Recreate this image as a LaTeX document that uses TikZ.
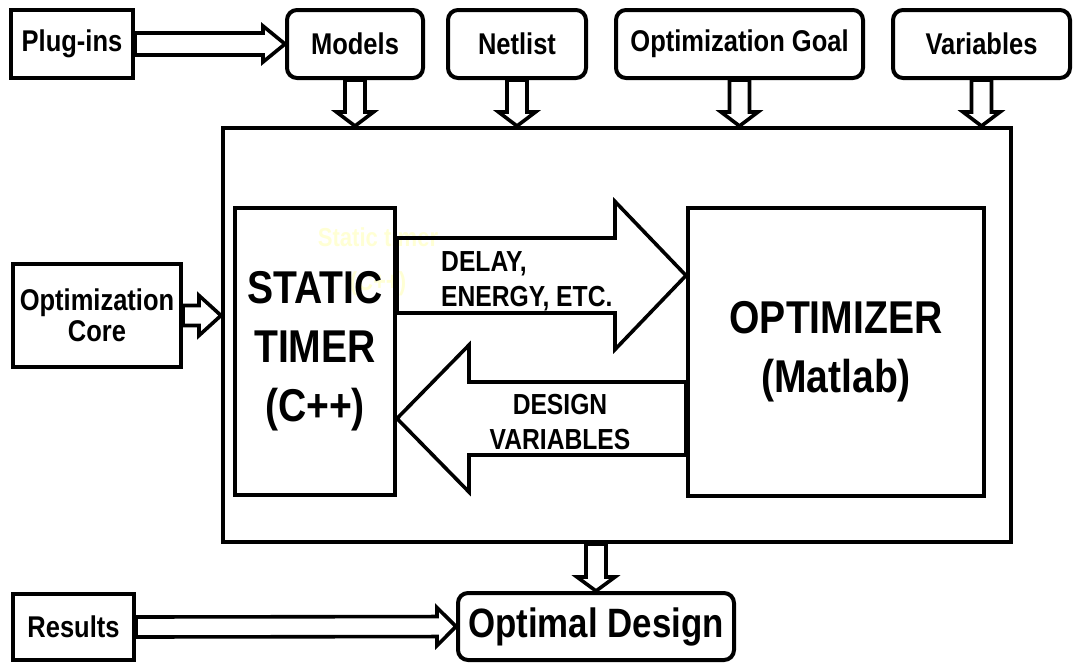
\documentclass[tikz,border=0pt]{standalone}
\usepackage{fontspec}
\setmainfont[FakeStretch=0.85]{Liberation Sans}
\usetikzlibrary{calc}
\definecolor{faintyellow}{RGB}{255,255,212}
% hollow block arrow: from, to, shaft half width, head half width, head length
\newcommand\hollowarr[5]{%
  \draw[arr] let \p1=(#1), \p2=(#2), \n1={veclen(\x2-\x1,\y2-\y1)}, \n2={atan2(\y2-\y1,\x2-\x1)} in
    {[shift={(\p1)},rotate=\n2] (0,#3) -- (\n1-#5,#3) -- (\n1-#5,#4) -- (\n1,0) -- (\n1-#5,-#4) -- (\n1-#5,-#3) -- (0,-#3) -- cycle};}
\begin{document}
\begin{tikzpicture}[x=1pt,y=-1pt,line join=miter,
  box/.style={draw,line width=4pt,inner sep=0pt,align=center,font=\bfseries\fontsize{30}{31}\selectfont},
  rbox/.style={box,rounded corners=10pt},
  big/.style={font=\bfseries\fontsize{46}{59}\selectfont},
  lbl/.style={inner sep=0pt,font=\bfseries\fontsize{29}{35}\selectfont},
  arr/.style={line width=3.6pt}]
  \useasboundingbox (0,0) rectangle (1074,662);
  \node[text=faintyellow,inner sep=0pt,align=center,font=\bfseries\fontsize{26}{44}\selectfont] (ghost) at (378,262) {Static timer\\(C++)};
  % inputs
  \node[box,minimum width=122pt,minimum height=68pt] (plug) at (72,44) {Plug-ins};
  \node[rbox,minimum width=136pt,minimum height=68pt] (models) at (355,44) {Models};
  \node[rbox,minimum width=138pt,minimum height=68pt] (netlist) at (517,44) {Netlist};
  \node[rbox,minimum width=247pt,minimum height=68pt] (goal) at (739.5,44) {Optimization Goal};
  \node[rbox,minimum width=177pt,minimum height=68pt] (vars) at (981.5,44) {Variables};
  \node[box,minimum width=168pt,minimum height=103pt] (optcore) at (97,315.5) {Optimization\\Core};
  % core
  \node[box,minimum width=788pt,minimum height=414pt] (frame) at (617,335) {};
  \node[box,big,minimum width=160pt,minimum height=287pt] (timer) at (315,351.5) {STATIC\\TIMER\\(C++)};
  \node[box,big,minimum width=296pt,minimum height=288pt] (optim) at (836,352) {OPTIMIZER\\(Matlab)};
  % outputs
  \node[box,minimum width=121pt,minimum height=66pt] (results) at (73.5,627) {Results};
  \node[rbox,minimum width=276pt,minimum height=67pt,font=\bfseries\fontsize{41}{45}\selectfont] (design) at (596,626.5) {Optimal Design};
  \coordinate (up) at (0,275.5); \coordinate (dn) at (0,418.5);
  \hollowarr{plug.east}{models.west}{11}{18}{22}
  \foreach \src in {models,netlist,goal,vars} {\hollowarr{\src.south}{\src.south |- frame.north}{10}{18.5}{14}}
  \hollowarr{optcore.east}{optcore.east -| frame.west}{10}{20}{22}
  \hollowarr{timer.east |- up}{optim.west |- up}{37.5}{74}{71}
  \hollowarr{optim.west |- dn}{timer.east |- dn}{36.5}{73.5}{72}
  \hollowarr{design.north |- frame.south}{design.north}{10}{19}{14}
  \hollowarr{results.east}{design.west}{10}{19}{19}
  \node[lbl,align=left,anchor=west] (delay) at (441,281) {DELAY,\\ENERGY, ETC.};
  \node[lbl,align=center] (dvars) at (560,422) {DESIGN\\VARIABLES};
\end{tikzpicture}
\end{document}
